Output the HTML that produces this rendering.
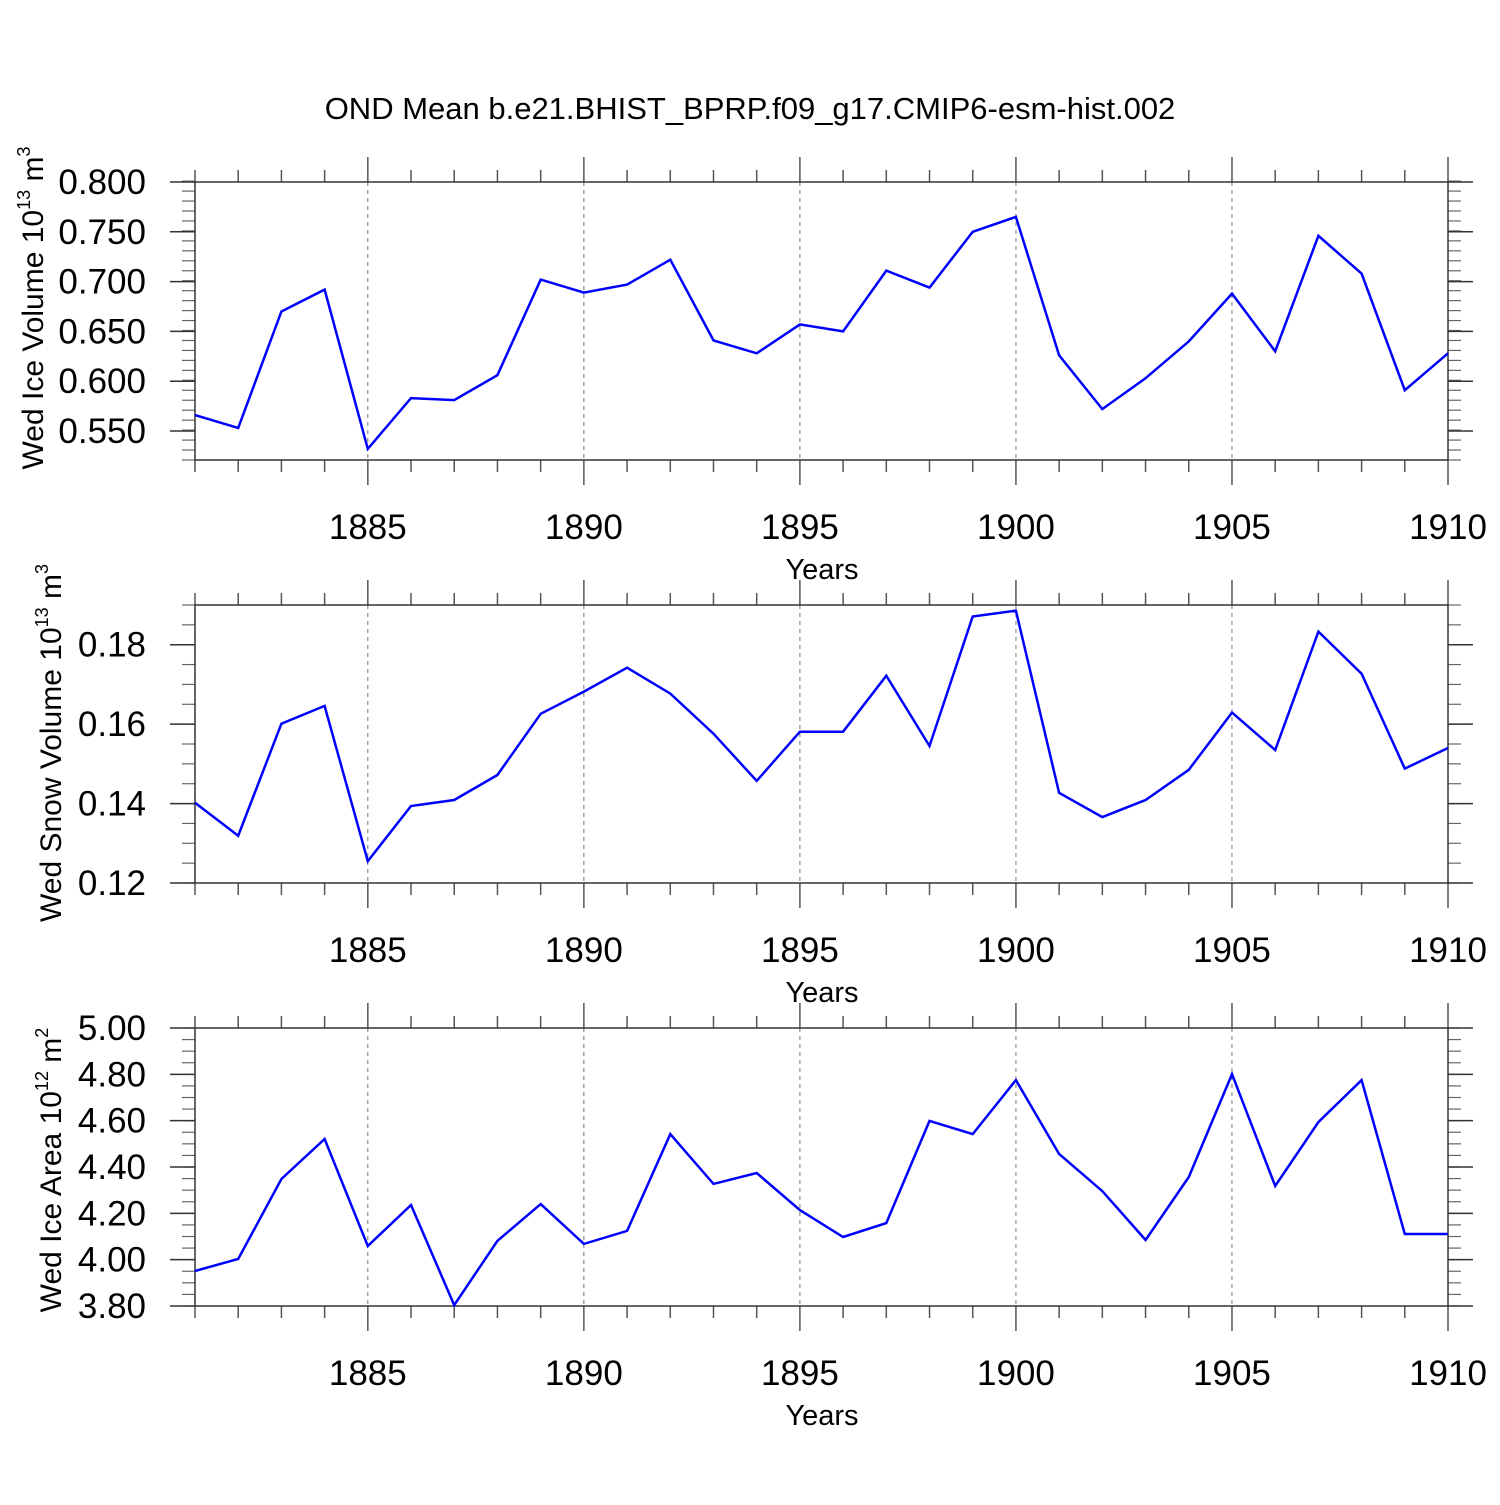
<!DOCTYPE html>
<html><head><meta charset="utf-8"><style>
body{margin:0;background:#fff}
svg text{font-family:"Liberation Sans",Arial,sans-serif;fill:#000}
</style></head><body>
<svg id="chart" width="1500" height="1500" viewBox="0 0 1500 1500" xmlns="http://www.w3.org/2000/svg">
<text x="750" y="119" font-size="31" text-anchor="middle">OND Mean b.e21.BHIST_BPRP.f09_g17.CMIP6-esm-hist.002</text>
</svg>
<script>
const years = [1881,1882,1883,1884,1885,1886,1887,1888,1889,1890,1891,1892,1893,1894,1895,1896,1897,1898,1899,1900,1901,1902,1903,1904,1905,1906,1907,1908,1909,1910];
const iceVolume = [0.566,0.553,0.670,0.692,0.532,0.583,0.581,0.606,0.702,0.689,0.697,0.722,0.641,0.628,0.657,0.650,0.711,0.694,0.750,0.765,0.626,0.572,0.603,0.640,0.688,0.630,0.746,0.708,0.591,0.628];
const snowVolume = [0.1402,0.1319,0.1601,0.1646,0.1255,0.1394,0.1409,0.1472,0.1626,0.1682,0.1742,0.1677,0.1576,0.1457,0.1581,0.1581,0.1722,0.1545,0.1871,0.1886,0.1427,0.1366,0.1409,0.1485,0.1629,0.1535,0.1833,0.1727,0.1488,0.1540];
const iceArea = [3.951,4.003,4.348,4.521,4.059,4.236,3.804,4.081,4.240,4.068,4.124,4.542,4.327,4.374,4.214,4.098,4.158,4.599,4.542,4.775,4.456,4.296,4.085,4.357,4.801,4.318,4.594,4.775,4.111,4.111];
const xTicks = [1885,1890,1895,1900,1905,1910];
const ticks1 = ["0.550","0.600","0.650","0.700","0.750","0.800"];
const ticks2 = ["0.12","0.14","0.16","0.18"];
const ticks3 = ["3.80","4.00","4.20","4.40","4.60","4.80","5.00"];

const svg = document.getElementById('chart');
const NS = 'http://www.w3.org/2000/svg';
const L = 195, R = 1448, H = 278;
function mk(tag, attrs, parent){const e=document.createElementNS(NS,tag);for(const k in attrs)e.setAttribute(k,attrs[k]);(parent||svg).appendChild(e);return e;}
const xs = y => L + (y - 1881) / (1910 - 1881) * (R - L);

function panel(top, ymin, ymax, minorStep, ticks, data, title, exp, name, titleX, titleDy){
  const g = mk('g', {});
  
  
  const bot = top + H;
  const ys = v => bot - (v - ymin) / (ymax - ymin) * H;
  xTicks.forEach(t => { if (t < 1910) { const l = mk('line',{x1:xs(t),x2:xs(t),y1:top,y2:bot,stroke:'#777','stroke-width':1,'stroke-dasharray':'4,4'},g);
      } });
  for (let y = 1881; y <= 1910; y++) {
    const major = xTicks.includes(y);
    const len = major ? 25 : 12;
    mk('line',{x1:xs(y),x2:xs(y),y1:top-len,y2:top,stroke:'#555','stroke-width':1.5},g);
    mk('line',{x1:xs(y),x2:xs(y),y1:bot,y2:bot+len,stroke:'#555','stroke-width':1.5},g);
  }
  const n = Math.round((ymax - ymin) / minorStep);
  for (let i = 0; i <= n; i++) {
    const yy = ys(ymin + i * minorStep);
    mk('line',{x1:L-13,x2:L,y1:yy,y2:yy,stroke:'#666','stroke-width':1.2},g);
    mk('line',{x1:R,x2:R+13,y1:yy,y2:yy,stroke:'#666','stroke-width':1.2},g);
  }
  ticks.forEach(t => {
    const yy = ys(parseFloat(t));
    mk('line',{x1:L-25,x2:L,y1:yy,y2:yy,stroke:'#333','stroke-width':1.5},g);
    mk('line',{x1:R,x2:R+25,y1:yy,y2:yy,stroke:'#333','stroke-width':1.5},g);
    const tx = mk('text',{x:146,y:yy+12,'font-size':35,'text-anchor':'end'},g);
    tx.textContent = t;
     
  });
  const fr = mk('rect',{x:L,y:top,width:R-L,height:H,fill:'none',stroke:'#333','stroke-width':1.5},g);
   
  xTicks.forEach(t => { const tx = mk('text',{x:xs(t),y:bot+79,'font-size':35,'text-anchor':'middle'},g); tx.textContent=t;
      });
  const xt = mk('text',{x:822,y:bot+119,'font-size':29,'text-anchor':'middle'},g);
  xt.textContent='Years';
   
  const yt = mk('text',{x:0,y:0,'font-size':30,'text-anchor':'middle',transform:`translate(${titleX},${top+H/2+titleDy}) rotate(-90)`},g);
  yt.innerHTML = title + ' 10<tspan dy="-13" font-size="18">' + exp[0] + '</tspan><tspan dy="13"> m</tspan><tspan dy="-13" font-size="18">' + exp[1] + '</tspan>';
   
  const pts = data.map((v,i) => xs(years[i]).toFixed(1)+','+ys(v).toFixed(1)).join(' ');
  const pl = mk('polyline',{points:pts,fill:'none',stroke:'#0000ff','stroke-width':2.5},g);
   
}
panel(182, 0.8 - 278/49.8*0.05, 0.8, 0.01, ticks1, iceVolume, 'Wed Ice Volume', ['13','3'], 'panel-ice-volume', 43, -13);
panel(605, 0.12, 0.19, 0.005, ticks2, snowVolume, 'Wed Snow Volume', ['13','3'], 'panel-snow-volume', 61, -1);
panel(1028, 3.8, 5.0, 0.05, ticks3, iceArea, 'Wed Ice Area', ['12','2'], 'panel-ice-area', 61, 3);
</script>
</body></html>
